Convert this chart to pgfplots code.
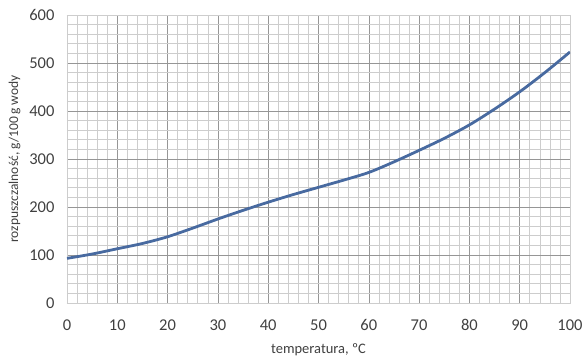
\documentclass[border=0pt]{standalone}
\usepackage{pgfplots}
\pgfplotsset{compat=1.18}
\usepackage{fontspec}
\setmainfont{Carlito}
\definecolor{linecol}{RGB}{72,106,160}
\definecolor{txt}{RGB}{64,64,64}
\definecolor{majgrid}{RGB}{150,150,150}
\definecolor{mingrid}{RGB}{205,205,205}
\begin{document}
\begin{tikzpicture}[x=1pt,y=1pt]
\begin{axis}[
  scale only axis,
  width=503pt, height=288pt,
  xmin=0, xmax=100, ymin=0, ymax=600,
  xtick={0,10,...,100}, ytick={0,100,...,600},
  minor x tick num=4, minor y tick num=4,
  grid=both,
  major grid style={draw=majgrid, line width=0.6pt},
  minor grid style={draw=mingrid, line width=0.6pt},
  axis line style={draw=mingrid},
  tick style={draw=none},
  /pgf/number format/assume math mode=true,
  ticklabel style={font=\fontsize{16.5}{18}\selectfont, text=txt},
  xticklabel style={yshift=-13pt},
  yticklabel style={xshift=-9pt},
  xlabel={temperatura, ºC},
  ylabel={rozpuszczalność, g/100\,g wody},
  xlabel style={font=\fontsize{14.5}{16}\selectfont, text=txt, yshift=-6pt},
  ylabel style={font=\fontsize{13.5}{15}\selectfont, text=txt, yshift=2pt},
]
\addplot[linecol, line width=2.8pt, smooth, tension=0.5] coordinates {
(0,93) (5,102) (10,113) (15,124) (20,138) (25,156) (30,175) (35,193) (40,210) (45,226) (50,241) (55,256) (60,272) (65,294) (70,318) (75,343) (80,371) (85,404) (90,440) (95,480) (100,523)
};
\end{axis}
\path[use as bounding box] ([xshift=-67pt,yshift=-54pt]current axis.south west) rectangle ([xshift=17pt,yshift=15pt]current axis.north east);
\end{tikzpicture}
\end{document}
